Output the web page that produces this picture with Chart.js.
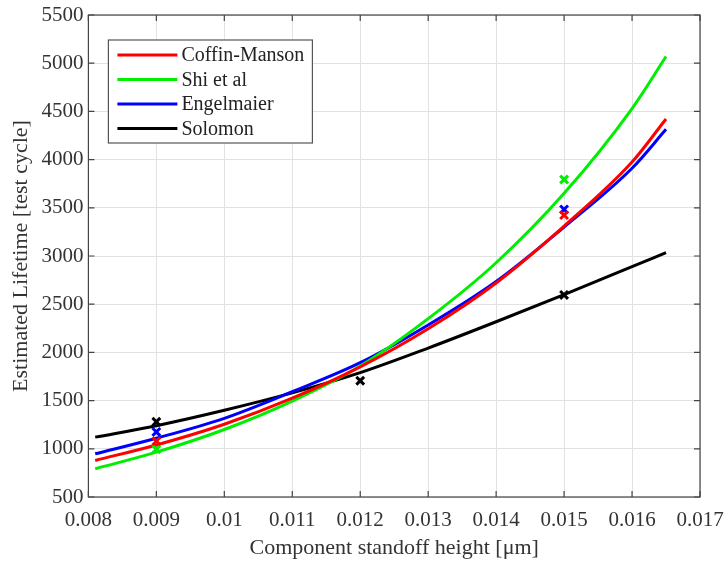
<!DOCTYPE html>
<html>
<head>
<meta charset="utf-8">
<script src="https://cdn.jsdelivr.net/npm/chart.js@4/dist/chart.umd.min.js"></script>
<style>
  html, body { margin: 0; padding: 0; background: #fff; }
  #wrap { width: 727px; height: 562px; }
</style>
</head>
<body>
<div id="wrap"><canvas id="lifeChart" width="727" height="562"></canvas></div>
<script>
const curveX = [0.0081, 0.009, 0.010, 0.011, 0.012, 0.013, 0.014, 0.015, 0.016, 0.0165];
const coffinCurve = [879, 1040, 1255, 1525, 1850, 2245, 2720, 3310, 3975, 4421];
const shiCurve = [793, 965, 1200, 1495, 1859, 2350, 2930, 3650, 4530, 5069];
const engelCurve = [948, 1110, 1316, 1592, 1893, 2284, 2735, 3300, 3910, 4314];
const solomonCurve = [1121, 1240, 1400, 1580, 1790, 2045, 2318, 2600, 2889, 3034];

// test points (x markers)
const testX = [0.009, 0.015];
const coffinTest = [1080, 3424];
const shiTest = [995, 3794];
const engelTest = [1175, 3483];
const solomonX = [0.009, 0.012, 0.015];
const solomonTest = [1280, 1706, 2596];

const seriesNames = ['Coffin-Manson', 'Shi et al', 'Engelmaier', 'Solomon'];
const seriesColors = ['#ff0000', '#00ee00', '#0000ff', '#000000'];

const FONT = '"Liberation Serif", "Times New Roman", serif';
Chart.defaults.font.family = FONT;

function pts(xs, ys) {
  return xs.map((x, i) => ({ x: x, y: ys[i] }));
}

const curves = [coffinCurve, shiCurve, engelCurve, solomonCurve];
const tests = [
  pts(testX, coffinTest),
  pts(testX, shiTest),
  pts(testX, engelTest),
  pts(solomonX, solomonTest)
];

const datasets = [];
curves.forEach((c, i) => {
  datasets.push({
    label: seriesNames[i],
    data: pts(curveX, c),
    showLine: true,
    borderColor: seriesColors[i],
    borderWidth: 3,
    pointRadius: 0,
    cubicInterpolationMode: 'monotone',
    order: 2
  });
});
tests.forEach((t, i) => {
  datasets.push({
    label: seriesNames[i] + ' test',
    data: t,
    showLine: false,
    pointStyle: 'crossRot',
    pointRadius: 5.5,
    borderColor: seriesColors[i],
    backgroundColor: seriesColors[i],
    pointBorderWidth: 3,
    order: 1
  });
});

// box, inward ticks and the legend inside the plot
const matlabBox = {
  id: 'matlabBox',
  afterDraw(chart) {
    const ctx = chart.ctx;
    const a = chart.chartArea;
    const xs = chart.scales.x, ys = chart.scales.y;
    ctx.save();
    ctx.strokeStyle = '#444';
    ctx.lineWidth = 1.2;
    ctx.strokeRect(a.left, a.top, a.right - a.left, a.bottom - a.top);
    ctx.beginPath();
    xs.ticks.forEach(t => {
      const px = xs.getPixelForValue(t.value);
      ctx.moveTo(px, a.bottom); ctx.lineTo(px, a.bottom - 6);
      ctx.moveTo(px, a.top); ctx.lineTo(px, a.top + 6);
    });
    ys.ticks.forEach(t => {
      const py = ys.getPixelForValue(t.value);
      ctx.moveTo(a.left, py); ctx.lineTo(a.left + 6, py);
      ctx.moveTo(a.right, py); ctx.lineTo(a.right - 6, py);
    });
    ctx.stroke();

    // legend
    const bx = a.left + 20, by = a.top + 25, bw = 204, bh = 103;
    ctx.fillStyle = '#fff';
    ctx.fillRect(bx, by, bw, bh);
    ctx.strokeStyle = '#555';
    ctx.lineWidth = 1.2;
    ctx.strokeRect(bx, by, bw, bh);
    ctx.font = '20px ' + FONT;
    ctx.textBaseline = 'middle';
    seriesNames.forEach((name, i) => {
      const ry = by + 15 + i * 24.5;
      ctx.strokeStyle = seriesColors[i];
      ctx.lineWidth = 3;
      ctx.beginPath();
      ctx.moveTo(bx + 9, ry); ctx.lineTo(bx + 69, ry);
      ctx.stroke();
      ctx.fillStyle = '#222';
      ctx.fillText(name, bx + 73, ry + 1);
    });
    ctx.restore();
  }
};

new Chart(document.getElementById('lifeChart').getContext('2d'), {
  type: 'scatter',
  data: { datasets: datasets },
  options: {
    responsive: false,
    animation: false,
    layout: { padding: { top: 0, right: 0, left: 8, bottom: 0 } },
    plugins: {
      legend: { display: false },
      tooltip: { enabled: false }
    },
    scales: {
      x: {
        type: 'linear',
        min: 0.008,
        max: 0.017,
        afterFit: scale => {
          scale.height = 65;
          scale.paddingLeft = 0;
          scale.paddingRight = 27;
        },
        ticks: {
          stepSize: 0.001,
          color: '#333',
          font: { family: FONT, size: 21, lineHeight: 1 },
          padding: 13,
          maxRotation: 0,
          autoSkip: false,
          callback: v => String(Number(v.toFixed(3)))
        },
        grid: { color: '#e2e2e2', lineWidth: 1, drawTicks: false },
        border: { display: false },
        title: {
          display: true,
          text: 'Component standoff height [μm]',
          color: '#333',
          font: { family: FONT, size: 22, lineHeight: 1 },
          padding: { top: 0, bottom: 3 }
        }
      },
      y: {
        min: 500,
        max: 5500,
        afterFit: scale => {
          scale.paddingTop = 15;
          scale.paddingBottom = 0;
        },
        ticks: {
          stepSize: 500,
          color: '#333',
          font: { family: FONT, size: 21 },
          padding: 5,
          callback: v => String(v)
        },
        grid: { color: '#e2e2e2', lineWidth: 1, drawTicks: false },
        border: { display: false },
        title: {
          display: true,
          text: 'Estimated Lifetime [test cycle]',
          color: '#333',
          font: { family: FONT, size: 22 },
          padding: { top: 0, bottom: 2 }
        }
      }
    }
  },
  plugins: [matlabBox]
});
</script>
</body>
</html>
